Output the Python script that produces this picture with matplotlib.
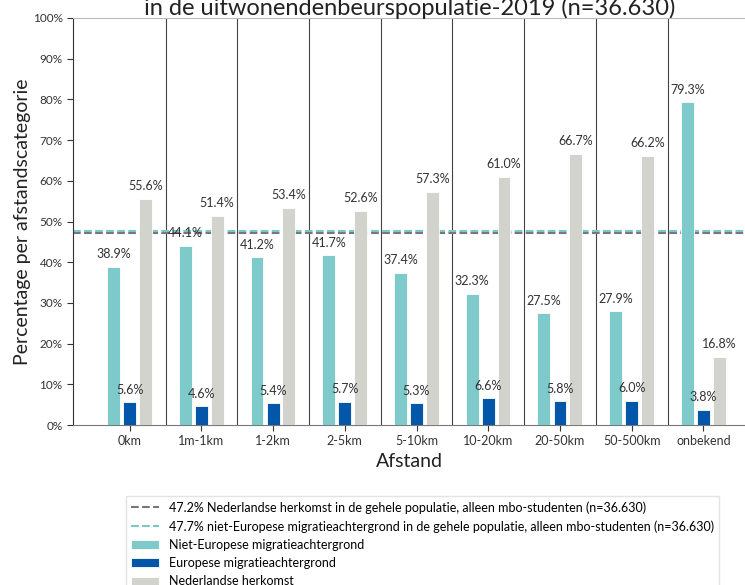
import matplotlib.pyplot as plt
import numpy as np

plt.rcParams["font.family"] = ["Lato", "DejaVu Sans"]

# %% data
categories = ["0km", "1m-1km", "1-2km", "2-5km", "5-10km", "10-20km", "20-50km", "50-500km", "onbekend"]
niet_europees = [38.9, 44.1, 41.2, 41.7, 37.4, 32.3, 27.5, 27.9, 79.3]
europees = [5.6, 4.6, 5.4, 5.7, 5.3, 6.6, 5.8, 6.0, 3.8]
nederlands = [55.6, 51.4, 53.4, 52.6, 57.3, 61.0, 66.7, 66.2, 16.8]

ref_nl = 47.2
ref_niet_eu = 47.7

series_names = ["Niet-Europese migratieachtergrond", "Europese migratieachtergrond", "Nederlandse herkomst"]
colors = ["#7ECACA", "#0457A8", "#D3D3CD"]

# %% plot
fig = plt.figure(figsize=(7.45, 5.85), dpi=100)
ax = fig.add_axes([73 / 745, 1 - 425 / 585, 1 - 73 / 745, (425 - 18) / 585])

x = np.arange(len(categories))
width = 0.18
offsets = [-0.225, 0, 0.22]

for vals, off, col, name in zip([niet_europees, europees, nederlands], offsets, colors, series_names):
    bars = ax.bar(x + off, vals, width, color=col, label=name, edgecolor="white", linewidth=0.6, zorder=3)
    for b, v in zip(bars, vals):
        ax.text(b.get_x() + b.get_width() / 2, v + 1.6, f"{v:.1f}%", ha="center", va="bottom",
                fontsize=9, color="#333333", zorder=4)

ax.axhline(ref_nl, color="#777777", ls="--", lw=1.5, zorder=2,
           label=f"{ref_nl}% Nederlandse herkomst in de gehele populatie, alleen mbo-studenten (n=36.630)")
ax.axhline(ref_niet_eu, color="#79C8C8", ls="--", lw=1.5, zorder=2,
           label=f"{ref_niet_eu}% niet-Europese migratieachtergrond in de gehele populatie, alleen mbo-studenten (n=36.630)")

# separators between categories
for sep in x[:-1] + 0.5:
    ax.axvline(sep, color="#444444", lw=0.8, zorder=1)

ax.set_xlim(-0.79, 8.58)
ax.set_ylim(0, 100)
ax.set_xticks(x)
ax.set_xticklabels(categories, fontsize=9, color="#333333")
ax.set_yticks(np.arange(0, 101, 10))
ax.set_yticklabels([f"{v}%" for v in range(0, 101, 10)], fontsize=8.5, color="#333333")
ax.tick_params(length=4, color="#333333")
ax.spines["right"].set_visible(False)
ax.spines["top"].set_color("#BBBBBB")
ax.spines["left"].set_color("#333333")
ax.spines["bottom"].set_color("#777777")

ax.set_xlabel("Afstand", fontsize=14, color="#222222", labelpad=4)
ax.set_ylabel("Percentage per afstandscategorie", fontsize=14, color="#222222", labelpad=1)

fig.text(0.55, 1 - 15 / 585, "in de uitwonendenbeurspopulatie-2019 (n=36.630)", ha="center", va="baseline",
         fontsize=17, color="#222222")

handles, labels = ax.get_legend_handles_labels()
fig.legend(handles, labels, loc="upper left",
           bbox_to_anchor=(120 / 745, 1 - 490 / 585), fontsize=9, frameon=True,
           edgecolor="#DDDDDD", fancybox=False, labelspacing=0.5, handlelength=2.2)

fig.savefig("out.png", dpi=100)
